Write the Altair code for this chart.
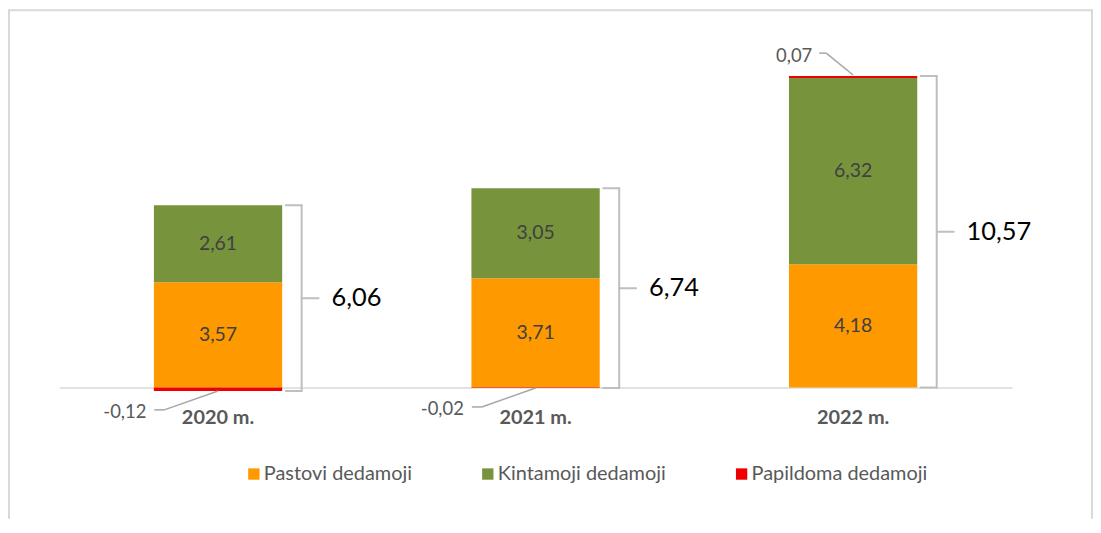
import altair as alt
import pandas as pd

# ---------------- data ----------------
years = ["2020 m.", "2021 m.", "2022 m."]
series_names = ["Pastovi dedamoji", "Kintamoji dedamoji", "Papildoma dedamoji"]
pastovi = [3.57, 3.71, 4.18]
kintamoji = [2.61, 3.05, 6.32]
papildoma = [-0.12, -0.02, 0.07]
colors = ["#FF9900", "#77933C", "#EE0000"]


def fmt(v):
    return f"{v:.2f}".replace(".", ",")


rows = []
for i, yr in enumerate(years):
    for j, (name, vals) in enumerate(zip(series_names, [pastovi, kintamoji, papildoma])):
        rows.append(dict(year=yr, series=name, value=vals[i], order=j))
bars_df = pd.DataFrame(rows)

lab_rows = []
for i, yr in enumerate(years):
    lab_rows.append(dict(year=yr, mid=pastovi[i] / 2, label=fmt(pastovi[i])))
    lab_rows.append(dict(year=yr, mid=pastovi[i] + kintamoji[i] / 2, label=fmt(kintamoji[i])))
lab_df = pd.DataFrame(lab_rows)

tot_rows = []
for i, yr in enumerate(years):
    top = pastovi[i] + kintamoji[i] + max(papildoma[i], 0)
    bottom = min(papildoma[i], 0)
    total = pastovi[i] + kintamoji[i] + papildoma[i]
    tot_rows.append(dict(year=yr, top=top, bottom=bottom, mid=(top + bottom) / 2, label=fmt(total)))
tot_df = pd.DataFrame(tot_rows)

red_rows = []
for i, yr in enumerate(years):
    r = papildoma[i]
    anchor = r if r < 0 else pastovi[i] + kintamoji[i] + r
    red_rows.append(dict(year=yr, anchor=anchor, label=fmt(r), neg=r < 0))
red_df = pd.DataFrame(red_rows)

# ---------------- layout ----------------
W, H = 1090, 512
FONT = "Lato"
y_scale = alt.Scale(domain=[-4.459, 12.838], nice=False, zero=False)

x_enc = alt.X(
    "year:N",
    sort=years,
    title=None,
    scale=alt.Scale(range=[51.5, 1008.5], paddingInner=0.596, paddingOuter=0.298),
    axis=alt.Axis(
        orient="bottom",
        offset=-132,
        domain=True,
        domainColor="#d9d9d9",
        domainWidth=1.5,
        ticks=False,
        tickSize=0,
        labelPadding=20,
        labelAngle=0,
        labelFont=FONT,
        labelFontSize=20,
        labelFontWeight="bold",
        labelColor="#595959",
        grid=False,
    ),
)


def yq(field):
    return alt.Y(f"{field}:Q", scale=y_scale, axis=None)


bars = alt.Chart(bars_df).mark_bar().encode(
    x=x_enc,
    y=alt.Y("value:Q", stack="zero", scale=y_scale, axis=None),
    color=alt.Color(
        "series:N",
        scale=alt.Scale(domain=series_names, range=colors),
        legend=alt.Legend(
            title=None,
            orient="none",
            legendX=237,
            legendY=457,
            direction="horizontal",
            symbolType="square",
            symbolSize=130,
            symbolStrokeWidth=0,
            labelFont=FONT,
            labelFontSize=20,
            labelColor="#595959",
            labelOffset=0,
            columnPadding=66,
            padding=0,
            labelLimit=400,
        ),
    ),
    order=alt.Order("order:Q"),
)

bar_labels = alt.Chart(lab_df).mark_text(
    font=FONT, fontSize=19.5, color="#404040", baseline="middle"
).encode(x=x_enc, y=yq("mid"), text="label:N")

brace_col = "#bfbfbf"
brace_w = 2
brace_v = alt.Chart(tot_df).mark_rule(
    color=brace_col, strokeWidth=brace_w, xOffset=84, strokeCap="round"
).encode(x=x_enc, y=yq("top"), y2="bottom:Q")
brace_top = alt.Chart(tot_df).mark_rule(
    color=brace_col, strokeWidth=brace_w, xOffset=68, x2Offset=84, strokeCap="round"
).encode(x=x_enc, x2=alt.X2("year:N"), y=yq("top"))
brace_bot = alt.Chart(tot_df).mark_rule(
    color=brace_col, strokeWidth=brace_w, xOffset=68, x2Offset=84, strokeCap="round"
).encode(x=x_enc, x2=alt.X2("year:N"), y=yq("bottom"))
brace_mid = alt.Chart(tot_df).mark_rule(
    color=brace_col, strokeWidth=brace_w, xOffset=84, x2Offset=101, strokeCap="round"
).encode(x=x_enc, x2=alt.X2("year:N"), y=yq("mid"))

totals = alt.Chart(tot_df).mark_text(
    font=FONT, fontSize=25.5, color="#000000", align="left", baseline="middle", dx=114
).encode(x=x_enc, y=yq("mid"), text="label:N")

lead_col = "#a6a6a6"
neg = alt.Chart(red_df).transform_filter("datum.neg")
pos = alt.Chart(red_df).transform_filter("!datum.neg")

neg_h = neg.mark_rule(color=lead_col, strokeWidth=1.5, xOffset=-64, x2Offset=-54, yOffset=19).encode(
    x=x_enc, x2=alt.X2("year:N"), y=yq("anchor")
)
neg_d = neg.mark_rule(
    color=lead_col, strokeWidth=1.5, xOffset=-54, x2Offset=0, yOffset=19, y2Offset=0
).encode(x=x_enc, x2=alt.X2("year:N"), y=yq("anchor"), y2="anchor:Q")
neg_t = neg.mark_text(
    font=FONT, fontSize=18.5, color="#595959", align="right", baseline="middle", dx=-72, dy=21
).encode(x=x_enc, y=yq("anchor"), text="label:N")

pos_h = pos.mark_rule(color=lead_col, strokeWidth=1.5, xOffset=-34, x2Offset=-27, yOffset=-23).encode(
    x=x_enc, x2=alt.X2("year:N"), y=yq("anchor")
)
pos_d = pos.mark_rule(
    color=lead_col, strokeWidth=1.5, xOffset=-27, x2Offset=0, yOffset=-23, y2Offset=-1
).encode(x=x_enc, x2=alt.X2("year:N"), y=yq("anchor"), y2="anchor:Q")
pos_t = pos.mark_text(
    font=FONT, fontSize=18.5, color="#595959", align="right", baseline="middle", dx=-41, dy=-20
).encode(x=x_enc, y=yq("anchor"), text="label:N")

one = alt.Data(values=[{"k": 1}])
frame_col = "#d9d9d9"
frame_l = alt.Chart(one).mark_rule(color=frame_col, strokeWidth=2).encode(
    x=alt.value(1), y=alt.value(0), y2=alt.value(H)
)
frame_t = alt.Chart(one).mark_rule(color=frame_col, strokeWidth=2).encode(
    x=alt.value(0), x2=alt.value(W), y=alt.value(1)
)
frame_r = alt.Chart(one).mark_rule(color=frame_col, strokeWidth=2).encode(
    x=alt.value(W - 1), y=alt.value(0), y2=alt.value(H)
)

chart = (
    alt.layer(
        bars, bar_labels, brace_v, brace_top, brace_bot, brace_mid, totals,
        neg_h, neg_d, neg_t, pos_h, pos_d, pos_t, frame_l, frame_t, frame_r,
    )
    .properties(width=W, height=H, autosize=alt.AutoSizeParams(type="none"), padding=0)
    .configure_view(strokeWidth=0)
)

chart.save("out.html", embed_options={"renderer": "svg", "actions": False})
